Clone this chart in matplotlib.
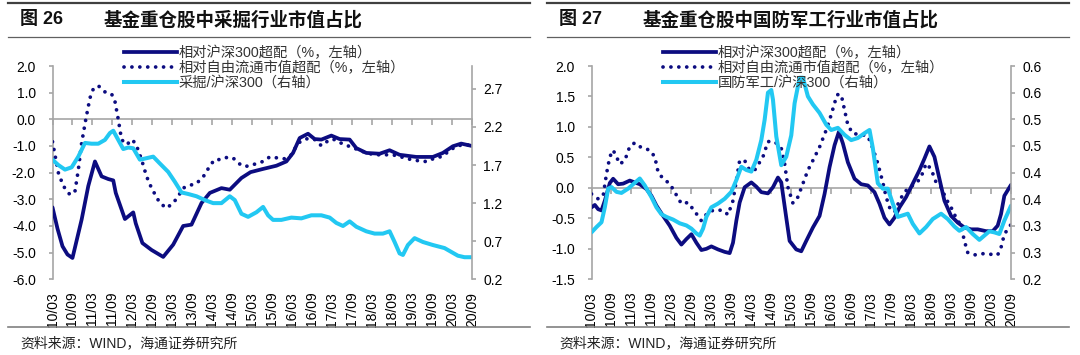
import matplotlib
matplotlib.use("Agg")
import matplotlib.pyplot as plt
from matplotlib.lines import Line2D

plt.rcParams['font.family'] = ['Liberation Sans', 'Noto Sans CJK SC']
plt.rcParams['axes.unicode_minus'] = False

# x = months since 2010-03
tick_months = list(range(0, 127, 6))
tick_labels = ['10/03', '10/09', '11/03', '11/09', '12/03', '12/09', '13/03', '13/09',
               '14/03', '14/09', '15/03', '15/09', '16/03', '16/09', '17/03', '17/09',
               '18/03', '18/09', '19/03', '19/09', '20/03', '20/09']

# ---- fig 26: mining ----
mining_hs300_m = [0, 1.5, 3, 4.5, 6, 8.75, 10.75, 12.75, 14.75, 16.75, 18.25, 19, 21.75, 24.25,
                  25, 27, 29.75, 33.25, 36.25, 39.25, 41.75, 44.75, 47.25, 50.75, 53.25, 56.75,
                  59.5, 63.25, 67.25, 70.25, 72.25, 74.25, 76.75, 78.75, 80.75, 83.75, 86.25,
                  89.25, 91.25, 94.25, 98.25, 101.25, 104.25, 109.25, 114.25, 117.25, 120.25,
                  122.75, 126]
mining_hs300 = [-3.3, -4.1, -4.76, -5.07, -5.2, -3.76, -2.5, -1.58, -2.14, -2.24, -2.29, -2.76,
                -3.74, -3.49, -3.9, -4.64, -4.9, -5.16, -4.7, -4.0, -3.95, -3.14, -2.76, -2.58,
                -2.64, -2.2, -1.98, -1.86, -1.74, -1.58, -1.26, -0.7, -0.54, -0.74, -0.76, -0.61,
                -0.74, -0.76, -1.08, -1.26, -1.29, -1.16, -1.33, -1.41, -1.41, -1.26, -1.01,
                -0.91, -1.0]

mining_free_m = [0, 1.75, 3.25, 5.25, 6.75, 7.75, 8.75, 10, 11.25, 12.25, 13.75, 15.75, 17.75,
                 18.75, 19.75, 20.75, 22.25, 24, 25.25, 26.75, 28.25, 29.75, 32.25, 34.25, 36.25,
                 37.75, 39.25, 40.75, 43.25, 45.75, 47.25, 48.75, 50.75, 52.75, 54.75, 56.75,
                 58.75, 60.75, 63.25, 65.25, 67.75, 69.75, 71.75, 73.75, 76.25, 78.75, 80.75,
                 83.25, 84.75, 87.25, 89.75, 91.75, 94.25, 96.75, 98.75, 101.25, 103.75, 106.25,
                 108.25, 110.75, 112.75, 114.75, 117.25, 119.25, 121.75, 123.75, 126]
mining_free = [-0.84, -2.0, -2.5, -2.83, -2.7, -1.9, -0.89, 0.0, 0.8, 1.14, 1.26, 1.03, 0.95,
               0.68, 0.0, -0.76, -0.95, -0.76, -0.99, -1.51, -2.14, -2.58, -3.14, -3.33, -3.14,
               -2.89, -2.58, -2.49, -2.41, -2.08, -1.74, -1.51, -1.51, -1.41, -1.49, -1.74,
               -1.76, -1.68, -1.58, -1.41, -1.45, -1.48, -1.33, -0.89, -0.73, -0.76, -0.99,
               -0.76, -0.76, -0.93, -1.04, -1.14, -1.26, -1.33, -1.33, -1.33, -1.36, -1.48,
               -1.51, -1.58, -1.58, -1.45, -1.39, -1.16, -0.99, -0.95, -0.98]

mining_ratio_m = [0, 1.75, 3.75, 5.75, 7.75, 9.75, 11.75, 13.75, 15.75, 17.25, 18.25, 19.75,
                  21.25, 22.75, 24.25, 26.25, 28.25, 30.25, 32.25, 34.75, 36.75, 38.75, 40.75,
                  43.25, 45.75, 48.25, 50.75, 53.25, 54.75, 56.75, 58.75, 61.25, 63.25, 64.75,
                  66.25, 68.75, 71.75, 74.75, 77.75, 80.75, 83.25, 85.25, 87.25, 89.25, 91.25,
                  94.25, 96.75, 99.25, 101.25, 102.75, 104.25, 105.25, 106.75, 108.75, 111.25,
                  114.25, 117.75, 119.75, 121.75, 123.75, 126]
mining_ratio = [1.77, 1.70, 1.64, 1.67, 1.81, 1.99, 1.98, 1.98, 2.03, 2.12, 2.15, 2.03, 1.91,
                1.93, 1.92, 1.77, 1.79, 1.81, 1.72, 1.61, 1.48, 1.34, 1.32, 1.29, 1.24, 1.2,
                1.2, 1.29, 1.24, 1.06, 1.02, 1.08, 1.15, 1.04, 0.98, 0.98, 1.01, 1.0, 1.04,
                1.04, 1.01, 0.94, 0.9, 0.96, 0.89, 0.83, 0.8, 0.8, 0.83, 0.69, 0.54, 0.52,
                0.65, 0.74, 0.69, 0.65, 0.61, 0.56, 0.51, 0.49, 0.49]

# ---- fig 27: defense ----
def_hs300_m = [0, 1, 2, 3, 4, 5.5, 6.5, 8, 9.5, 11.5, 13, 14.5, 16.5, 18, 19.5, 21.5, 23.5,
               25.5, 27, 28.5, 30, 31.5, 33, 34.5, 36, 38, 40, 41.5, 42.5, 43.5, 44.5, 46, 48,
               49.5, 51, 53, 54.5, 56, 57, 58.5, 59.5, 61.5, 63, 64.5, 66.5, 68.5, 70, 71.5, 73,
               74.3, 75.5, 77, 79, 81, 83, 85, 86.5, 88, 89.5, 91, 92.5, 94.5, 96.5, 98.5, 100,
               101.5, 103, 104.5, 106, 108, 110, 112, 114, 116, 118.5, 120.5, 122, 123, 124, 126]
def_hs300 = [-0.32, -0.28, -0.35, -0.37, -0.21, 0.08, 0.15, 0.06, 0.07, 0.12, 0.09, 0.06, -0.02,
             -0.13, -0.29, -0.46, -0.62, -0.82, -0.93, -0.84, -0.76, -0.9, -1.02, -1.0, -0.96,
             -1.01, -1.05, -1.07, -0.9, -0.54, -0.24, 0.01, 0.09, 0.02, -0.07, -0.09, 0.01, 0.17,
             0.09, -0.49, -0.87, -1.01, -1.04, -0.87, -0.65, -0.46, -0.1, 0.34, 0.7, 0.92, 0.73,
             0.42, 0.15, 0.06, 0.04, -0.07, -0.26, -0.49, -0.6, -0.49, -0.32, -0.15, 0.07, 0.29,
             0.48, 0.68, 0.51, 0.15, -0.21, -0.46, -0.57, -0.65, -0.68, -0.68, -0.71, -0.71,
             -0.62, -0.43, -0.13, 0.05]

def_free_m = [0, 2, 3.5, 4.5, 5.5, 6.5, 7.5, 8.5, 10, 11.5, 13, 15, 17.5, 19, 20, 21.5, 23.5,
              25, 27, 29, 30.5, 32, 33, 35, 37, 39.5, 41, 42.5, 43.5, 44.5, 46, 47.5, 49, 50.5,
              51.5, 53, 55, 57, 58, 59, 60.5, 62, 63.5, 65, 66.5, 68.5, 70.5, 72, 73, 73.8, 75,
              76, 77, 78.5, 80.5, 83, 84.5, 86, 87.5, 88.5, 89.5, 91, 92.5, 94, 95.5, 97.5, 99,
              100.5, 102, 103.5, 105, 106.5, 108, 109.5, 111, 112, 113, 115, 117.5, 120, 122,
              123, 124, 126]
def_free = [-0.1, -0.18, -0.13, 0.23, 0.51, 0.62, 0.51, 0.39, 0.45, 0.68, 0.74, 0.66, 0.62, 0.51,
            0.26, 0.15, 0.07, -0.07, -0.26, -0.24, -0.35, -0.46, -0.54, -0.4, -0.36, -0.37,
            -0.44, -0.21, 0.12, 0.45, 0.45, 0.29, 0.29, 0.42, 0.51, 0.76, 0.76, 0.65, 0.4, 0.01,
            -0.25, -0.15, 0.07, 0.29, 0.45, 0.67, 0.95, 1.2, 1.39, 1.53, 1.53, 1.28, 1.03, 0.89,
            0.88, 0.85, 0.65, 0.4, 0.09, -0.15, -0.32, -0.4, -0.21, -0.07, 0.01, 0.07, 0.18, 0.4,
            0.31, 0.09, 0.01, -0.18, -0.32, -0.49, -0.62, -0.87, -1.06, -1.1, -1.08, -1.09,
            -1.1, -0.98, -0.76, -0.6]

def_ratio_m = [0, 1.5, 3, 4, 5, 6, 7.5, 9, 11, 13, 14.5, 16, 18, 19.5, 21, 22.5, 24.5, 26.5,
               28.5, 30, 31.5, 32.5, 33.5, 34.5, 36, 38, 40, 42, 43.5, 45, 46.5, 48, 49.5, 51,
               52, 53, 54, 54.5, 55.5, 57, 58.5, 60, 61, 62.5, 63.5, 65, 66.5, 68.5, 70.5, 72,
               74, 76, 78, 80, 82, 83.5, 84.5, 86, 87.5, 89, 90.5, 92, 93.5, 95, 96.5, 98.5,
               100.5, 102.5, 105, 107, 109, 110.5, 112.5, 114.5, 116.5, 118, 119.5, 121, 122.5,
               124, 126]
def_ratio = [0.288, 0.298, 0.307, 0.335, 0.37, 0.373, 0.364, 0.362, 0.37, 0.381, 0.389, 0.376,
             0.354, 0.335, 0.322, 0.317, 0.312, 0.305, 0.301, 0.295, 0.286, 0.282, 0.295, 0.317,
             0.335, 0.342, 0.351, 0.364, 0.386, 0.411, 0.405, 0.402, 0.424, 0.461, 0.499, 0.55,
             0.555, 0.537, 0.468, 0.414, 0.43, 0.47, 0.53, 0.578, 0.578, 0.543, 0.528, 0.512,
             0.49, 0.48, 0.484, 0.471, 0.461, 0.465, 0.474, 0.48, 0.446, 0.38, 0.37, 0.37, 0.342,
             0.317, 0.32, 0.323, 0.304, 0.286, 0.298, 0.313, 0.323, 0.313, 0.299, 0.291, 0.298,
             0.285, 0.274, 0.282, 0.29, 0.288, 0.285, 0.31, 0.338]

NAVY = '#0c0c80'
CYAN = '#22c8f2'
GRAY = '#a6a6a6'
DOTS = (0, (0.01, 2.1))

fig = plt.figure(figsize=(10.8, 3.55), dpi=100)


def panel(x0, fig_no, title, s1, s2, s3, labels, ylim, yticks, y2lim, y2ticks, y2labels):
    ax = fig.add_axes([(x0 + 52.5) / 1080, 1 - 279.3 / 355, 419.5 / 1080, 213.3 / 355])
    ax.plot(s1[0], s1[1], color=NAVY, lw=2.7, solid_capstyle='round', zorder=3)
    ax.plot(s2[0], s2[1], color=NAVY, lw=2.7, linestyle=DOTS,
            dash_capstyle='round', zorder=3)
    ax.set_xlim(0, 126)
    ax.set_ylim(*ylim)
    ax.set_yticks(yticks)
    ax.set_yticklabels(['%.1f' % v for v in yticks])
    ax.set_xticks(tick_months)
    ax.set_xticklabels(tick_labels, rotation=90)
    for s in ['top', 'right', 'bottom']:
        ax.spines[s].set_visible(False)
    ax.spines['left'].set_color(GRAY)
    ax.spines['left'].set_linewidth(1.2)
    ax.tick_params(axis='x', length=0, pad=9, labelsize=10)
    ax.tick_params(axis='y', length=3, color=GRAY, width=1.2, pad=9, labelsize=10)
    ax.patch.set_visible(False)

    # zero line with tick marks
    zf = (0 - ylim[0]) / (ylim[1] - ylim[0])
    sec = ax.secondary_xaxis(zf)
    sec.set_alignment('bottom')
    sec.set_xticks(tick_months)
    sec.tick_params(length=4, color=GRAY, width=1.2, labelbottom=False, labeltop=False)
    sec.spines['bottom'].set_color(GRAY)
    sec.spines['bottom'].set_linewidth(1.2)
    sec.set_zorder(1)

    ax2 = ax.twinx()
    ax2.plot(s3[0], s3[1], color=CYAN, lw=2.9, solid_capstyle='round')
    ax2.set_ylim(*y2lim)
    ax2.set_yticks(y2ticks)
    ax2.set_yticklabels(y2labels)
    for s in ['top', 'left', 'bottom']:
        ax2.spines[s].set_visible(False)
    ax2.spines['right'].set_color(GRAY)
    ax2.spines['right'].set_linewidth(1.2)
    ax2.tick_params(axis='y', length=3, color=GRAY, width=1.2, pad=5, labelsize=10)

    handles = [Line2D([], [], color=NAVY, lw=2.7),
               Line2D([], [], color=NAVY, lw=2.7, linestyle=DOTS, dash_capstyle='round'),
               Line2D([], [], color=CYAN, lw=2.9)]
    ax2.legend(handles, labels, loc='upper left', bbox_to_anchor=(0.17, 1.095),
               frameon=False, fontsize=10.3, handlelength=3.7, handletextpad=0.15,
               labelspacing=0.05, borderpad=0, borderaxespad=0, labelcolor='#333333')

    # header and footer
    fig.add_artist(Line2D([(x0 + 8) / 1080, (x0 + 530) / 1080], [1 - 3 / 355, 1 - 3 / 355],
                          color='#404040', lw=1.6))
    fig.add_artist(Line2D([(x0 + 8) / 1080, (x0 + 530) / 1080], [1 - 37 / 355, 1 - 37 / 355],
                          color='#606060', lw=0.9))
    fig.add_artist(Line2D([(x0 + 8) / 1080, (x0 + 530) / 1080], [1 - 327 / 355, 1 - 327 / 355],
                          color='#808080', lw=1.2))
    fig.text((x0 + 20) / 1080, 1 - 20 / 355, fig_no, fontsize=13, fontweight='bold',
             va='center', ha='left', color='#111111')
    fig.text((x0 + 104) / 1080, 1 - 20 / 355, title, fontsize=13.3, fontweight='bold',
             va='center', ha='left', color='#111111')
    fig.text((x0 + 20) / 1080, 1 - 343 / 355, '资料来源：WIND，海通证券研究所', fontsize=10,
             va='center', ha='left', color='#222222')


panel(0, '图 26', '基金重仓股中采掘行业市值占比',
      (mining_hs300_m, mining_hs300), (mining_free_m, mining_free), (mining_ratio_m, mining_ratio),
      ['相对沪深300超配（%，左轴）', '相对自由流通市值超配（%，左轴）', '采掘/沪深300（右轴）'],
      (-6, 2), [2, 1, 0, -1, -2, -3, -4, -5, -6], (0.2, 3.0), [0.2, 0.7, 1.2, 1.7, 2.2, 2.7],
      ['0.2', '0.7', '1.2', '1.7', '2.2', '2.7'])

panel(539, '图 27', '基金重仓股中国防军工行业市值占比',
      (def_hs300_m, def_hs300), (def_free_m, def_free), (def_ratio_m, def_ratio),
      ['相对沪深300超配（%，左轴）', '相对自由流通市值超配（%，左轴）', '国防军工/沪深300（右轴）'],
      (-1.5, 2), [2, 1.5, 1, 0.5, 0, -0.5, -1, -1.5], (0.2, 0.6),
      [0.2, 0.25, 0.3, 0.35, 0.4, 0.45, 0.5, 0.55, 0.6],
      ['0.2', '0.3', '0.3', '0.4', '0.4', '0.5', '0.5', '0.6', '0.6'])

fig.savefig('out.png', dpi=100)
